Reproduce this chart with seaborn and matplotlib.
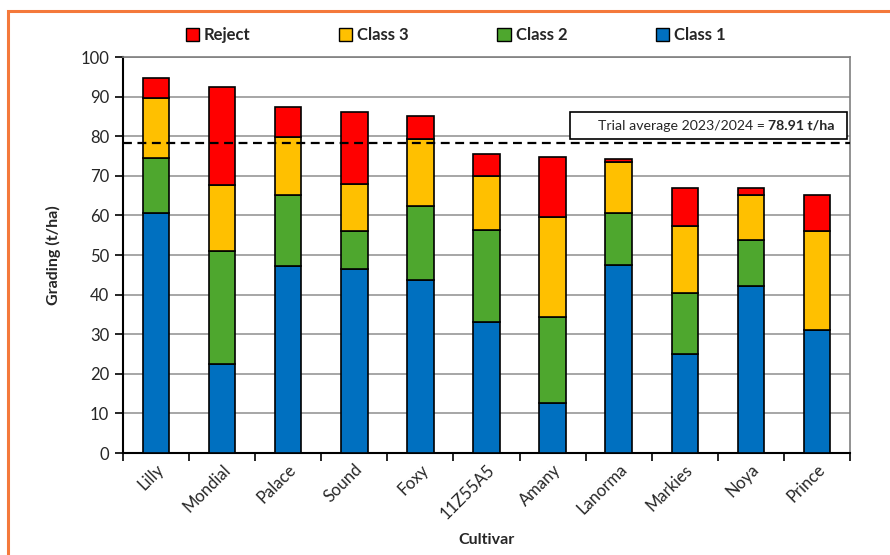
import numpy as np
import pandas as pd
import matplotlib
matplotlib.use("Agg")
import matplotlib.pyplot as plt
import matplotlib.patches as mpatches
import seaborn as sns

# Data (t/ha)
cultivars = ["Lilly", "Mondial", "Palace", "Sound", "Foxy", "11Z55A5",
             "Amany", "Lanorma", "Markies", "Noya", "Prince"]
class1 = [60.7, 22.6, 47.3, 46.5, 43.8, 33.0, 12.7, 47.5, 24.9, 42.2, 31.1]
class2 = [13.7, 28.5, 17.8, 9.6, 18.5, 23.4, 21.6, 13.1, 15.5, 11.7, 0.0]
class3 = [15.2, 16.5, 14.6, 11.9, 16.9, 13.6, 25.3, 12.9, 17.0, 11.2, 24.9]
reject = [5.1, 24.7, 7.7, 18.0, 5.9, 5.6, 15.2, 0.7, 9.6, 1.7, 9.2]
trial_avg_line = 78.2
trial_avg_label = "78.91 t/ha"

colors = {"Class 1": "#0070C0", "Class 2": "#4EA72E", "Class 3": "#FFC000", "Reject": "#FF0000"}

df = pd.DataFrame({"Cultivar": cultivars, "Class 1": class1, "Class 2": class2,
                   "Class 3": class3, "Reject": reject})

sns.set_theme(style="white")
plt.rcParams["font.family"] = ["Lato", "DejaVu Sans"]

fig = plt.figure(figsize=(8.9, 5.55), dpi=100)
ax = fig.add_axes([123 / 890, 1 - 453 / 555, 727 / 890, 396 / 555])

# stacked bars
bottom = np.zeros(len(df))
for col in ["Class 1", "Class 2", "Class 3", "Reject"]:
    sns.barplot(x=df["Cultivar"], y=df[col], bottom=bottom, color=colors[col],
                width=0.4, edgecolor="black", linewidth=1.2, saturation=1, ax=ax, zorder=3)
    bottom = bottom + df[col].values

ax.set_ylim(0, 100)
ax.set_xlim(-0.5, len(cultivars) - 0.5)
ax.set_yticks(np.arange(0, 101, 10))
ax.yaxis.grid(True, color="#A6A6A6", linewidth=1.4, zorder=0)
ax.set_axisbelow(True)

ax.axhline(trial_avg_line, color="black", linestyle=(0, (4, 2.5)), linewidth=1.6, zorder=4)

# spines
for s in ["left", "bottom"]:
    ax.spines[s].set_color("black")
    ax.spines[s].set_linewidth(1.5)
for s in ["top", "right"]:
    ax.spines[s].set_color("#7F7F7F")
    ax.spines[s].set_linewidth(1.2)

# ticks
ax.tick_params(axis="y", which="major", direction="out", length=6, width=1.2,
               color="black", labelsize=12, left=True, pad=4)
ax.tick_params(axis="x", which="major", length=0, labelsize=12, pad=6)
ax.set_xticks(np.arange(-0.5, len(cultivars) + 0.5, 1), minor=True)
ax.tick_params(axis="x", which="minor", direction="out", length=6, width=1.2,
               color="black", bottom=True)
for lab in ax.get_xticklabels():
    lab.set_rotation(45)
    lab.set_ha("right")
    lab.set_rotation_mode("anchor")

ax.set_xlabel("Cultivar", fontsize=11.5, fontweight="bold", labelpad=8)
ax.set_ylabel("Grading (t/ha)", fontsize=11.5, fontweight="bold", labelpad=14)

# trial average box
ax.add_patch(mpatches.Rectangle((0.615, 0.793), 0.381, 0.068, transform=ax.transAxes,
                                facecolor="white", edgecolor="black", linewidth=1.2, zorder=5))
bold_txt = ax.text(0.978, 0.827, trial_avg_label, transform=ax.transAxes, ha="right",
                   va="center", fontsize=10.2, fontweight="bold", zorder=6)
fig.canvas.draw()
bb = bold_txt.get_window_extent().transformed(ax.transAxes.inverted())
ax.text(bb.x0 - 0.004, 0.827, "Trial average 2023/2024 =", transform=ax.transAxes,
        ha="right", va="center", fontsize=10.2, zorder=6)

# legend
handles = [mpatches.Patch(facecolor=colors[k], edgecolor="black", linewidth=1)
           for k in ["Reject", "Class 3", "Class 2", "Class 1"]]
fig.legend(handles, ["Reject", "Class 3", "Class 2", "Class 1"], ncol=4,
           loc="center", bbox_to_anchor=(0.512, 0.937), frameon=False,
           prop={"weight": "bold", "size": 12}, handlelength=0.8, handleheight=0.8,
           handletextpad=0.3, columnspacing=5.3)

# orange frame
fig.patches.append(mpatches.Rectangle((8 / 890, -0.1), 1.2, 1.1 - 11 / 555,
                                      transform=fig.transFigure, fill=False,
                                      edgecolor="#F4793B", linewidth=2.2))

fig.savefig("out.png", dpi=100)
